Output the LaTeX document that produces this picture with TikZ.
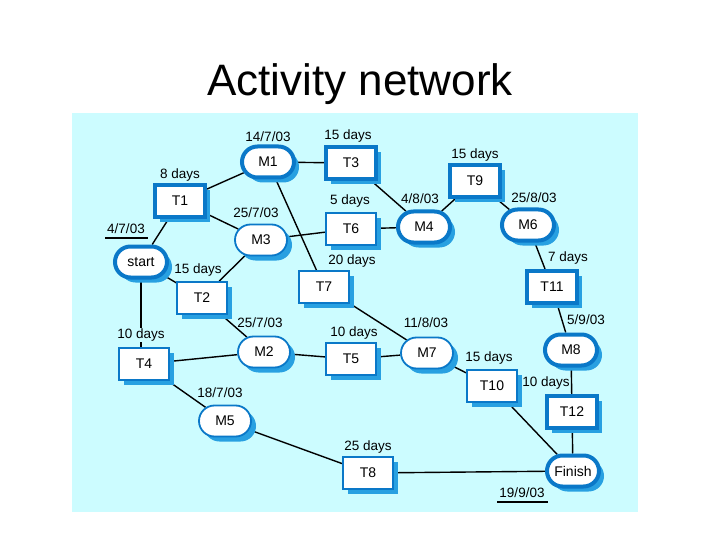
\documentclass[tikz,border=0pt]{standalone}
\usepackage{fontspec}
\setmainfont{Liberation Sans}
\usetikzlibrary{shapes.misc,shadows,backgrounds}
\definecolor{panel}{RGB}{204,252,255}
\definecolor{bord}{RGB}{10,120,200}
\definecolor{shad}{RGB}{40,160,225}
\pgfdeclarelayer{edgelayer}
\pgfsetlayers{background,edgelayer,main}
\tikzset{
  base/.style={draw=bord, fill=white, font=\fontsize{14}{16}\selectfont, inner sep=0pt,
    general shadow={fill=shad, shadow xshift=5pt, shadow yshift=-5pt}},
  task/.style={base, rectangle, minimum width=50pt, minimum height=32pt},
  mile/.style={base, rounded rectangle, minimum width=52pt, minimum height=31pt},
  crit/.style={line width=4pt},
  norm/.style={line width=1.8pt},
  lab/.style={font=\fontsize{13.5}{15}\selectfont, inner sep=1pt},
  link/.style={line width=1.4pt, black}
}
\begin{document}
\begin{tikzpicture}[x=1pt,y=-1pt]
\useasboundingbox (0,0) rectangle (720,540);
\node[font=\fontsize{44}{50}\selectfont] (title) at (360,84) {Activity network};
\begin{pgfonlayer}{background}
\fill[panel] (72,113) rectangle (638,512);
\end{pgfonlayer}
% nodes
\node[mile,crit] (start) at (141,262) {start};
\node[task,crit] (T1) at (180,201) {T1};
\node[mile,crit] (M1) at (268,162) {M1};
\node[mile,norm] (M3) at (261,240) {M3};
\node[task,norm] (T2) at (202,298) {T2};
\node[task,crit] (T3) at (351,163) {T3};
\node[task,norm] (T6) at (351,229) {T6};
\node[task,norm] (T7) at (324,287) {T7};
\node[mile,crit] (M4) at (424,227) {M4};
\node[task,crit] (T9) at (475,181) {T9};
\node[mile,crit] (M6) at (528,225) {M6};
\node[task,crit] (T11) at (552,287) {T11};
\node[mile,crit] (M8) at (571,350) {M8};
\node[task,crit] (T12) at (572,412) {T12};
\node[mile,crit] (Fin) at (573,471) {Finish};
\node[task,norm] (T10) at (492,386) {T10};
\node[mile,norm] (M7) at (427,353) {M7};
\node[task,norm] (T5) at (351,359) {T5};
\node[mile,norm] (M2) at (264,352) {M2};
\node[task,norm] (T4) at (144,364) {T4};
\node[mile,norm] (M5) at (225,421) {M5};
\node[task,norm] (T8) at (368,473) {T8};
% labels
\node[lab] (l1) at (268,137) {14/7/03};
\node[lab] (l2) at (348,136) {15 days};
\node[lab] (l3) at (180,175) {8 days};
\node[lab] (l4) at (256,213) {25/7/03};
\node[lab] (l5) at (126,229) {4/7/03};
\node[lab] (l6) at (350,201) {5 days};
\node[lab] (l7) at (420,199) {4/8/03};
\node[lab] (l8) at (475,155) {15 days};
\node[lab] (l9) at (534,198) {25/8/03};
\node[lab] (l10) at (198,270) {15 days};
\node[lab] (l11) at (352,261) {20 days};
\node[lab] (l12) at (568,258) {7 days};
\node[lab, fill=panel] (l13) at (141,335) {10 days};
\node[lab] (l14) at (260,323) {25/7/03};
\node[lab] (l15) at (354,333) {10 days};
\node[lab] (l16) at (426,323) {11/8/03};
\node[lab] (l17) at (586,320) {5/9/03};
\node[lab] (l18) at (489,358) {15 days};
\node[lab] (l19) at (546,383) {10 days};
\node[lab] (l20) at (220,393) {18/7/03};
\node[lab] (l21) at (368,447) {25 days};
\node[lab] (l22) at (522,493) {19/9/03};
\coordinate (u1a) at (105,238);
\coordinate (u1b) at (148,238);
\coordinate (u2a) at (497,502);
\coordinate (u2b) at (548,502);
\begin{pgfonlayer}{edgelayer}
\draw[link] (u1a) -- (u1b);
\draw[link] (u2a) -- (u2b);
\draw[link] (start) -- (T1);
\draw[link] (T1) -- (M1);
\draw[link] (T1) -- (M3);
\draw[link] (start) -- (T2);
\draw[link] (T2) -- (M3);
\draw[link] (start.south) -- (start.south |- T4.north);
\draw[link] (M1) -- (T3);
\draw[link] (M1) -- (T7);
\draw[link] (M3) -- (T6);
\draw[link] (T3) -- (M4);
\draw[link] (T6) -- (M4);
\draw[link] (M4) -- (T9);
\draw[link] (T9) -- (M6);
\draw[link] (M6) -- (T11);
\draw[link] (T11) -- (M8);
\draw[link] (M8) -- (T12);
\draw[link] (T12) -- (Fin);
\draw[link] (T2) -- (M2);
\draw[link] (T4) -- (M2);
\draw[link] (M2) -- (T5);
\draw[link] (T5) -- (M7);
\draw[link] (T7) -- (M7);
\draw[link] (M7) -- (T10);
\draw[link] (T10) -- (Fin);
\draw[link] (T4) -- (M5);
\draw[link] (M5) -- (T8);
\draw[link] (T8) -- (Fin);
\end{pgfonlayer}
\end{tikzpicture}
\end{document}
